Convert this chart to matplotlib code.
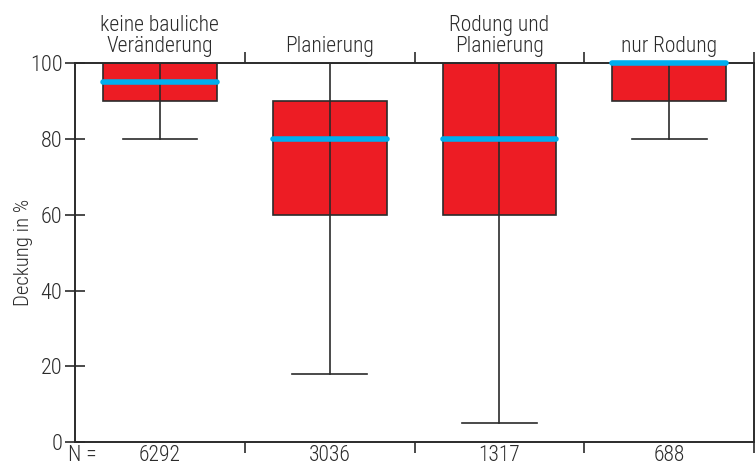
import matplotlib.pyplot as plt
from matplotlib.transforms import blended_transform_factory

plt.rcParams['font.family'] = ['Roboto Condensed', 'DejaVu Sans']
plt.rcParams['font.weight'] = 'light'
plt.rcParams['axes.labelweight'] = 'light'

# Daten
categories = ["keine bauliche\nVeränderung", "Planierung", "Rodung und\nPlanierung", "nur Rodung"]
n_values = ["6292", "3036", "1317", "688"]
whisker_low = [80, 18, 5, 80]
q1 = [90, 60, 60, 90]
median = [95, 80, 80, 100]
q3 = [100, 90, 100, 100]
whisker_high = [100, 100, 100, 100]
y_ticks = [0, 20, 40, 60, 80, 100]

ink = "#2b2b2b"
red = "#ed1c24"
blue = "#00aeef"

fig = plt.figure(figsize=(7.56, 4.72), dpi=100)
ax = fig.add_axes([0.0992, 0.0636, 0.8982, 0.8019])

stats = []
for i in range(len(categories)):
    stats.append({"whislo": whisker_low[i], "q1": q1[i], "med": median[i],
                  "q3": q3[i], "whishi": whisker_high[i], "fliers": []})

pos = list(range(1, len(categories) + 1))
ax.bxp(stats, positions=pos, widths=0.67, capwidths=0.44, patch_artist=True,
       showfliers=False,
       boxprops=dict(facecolor=red, edgecolor=ink, linewidth=1.2),
       whiskerprops=dict(color=ink, linewidth=1.2),
       capprops=dict(color=ink, linewidth=1.2),
       medianprops=dict(color=blue, linewidth=4, solid_capstyle="round",
                        zorder=5, clip_on=False))
# Linie durch die Box
ax.vlines(pos, q1, q3, color=ink, linewidth=1.2, zorder=4)

ax.set_xlim(0.5, len(categories) + 0.5)
ax.set_ylim(0, 100)
ax.set_yticks(y_ticks)
ax.tick_params(axis="y", direction="inout", length=14, width=1.2, color=ink,
               labelsize=16, labelcolor=ink, pad=2)

# Kategoriengrenzen als Ticks oben und unten
bounds = [p + 0.5 for p in pos]
ax.set_xticks(bounds)
ax.set_xticklabels([])
ax.tick_params(axis="x", direction="out", length=8, width=1.2, color=ink,
               top=True, bottom=True)

for s in ax.spines.values():
    s.set_color(ink)
    s.set_linewidth(1.4)

ax.set_ylabel("Deckung in %", fontsize=15, color=ink, fontweight="light")
ax.yaxis.set_label_coords(-0.062, 0.5)

trans = blended_transform_factory(ax.transData, ax.transAxes)
for p, lab, n in zip(pos, categories, n_values):
    ax.annotate(lab, (p, 1), xycoords=trans, xytext=(0, 5), textcoords="offset points",
                ha="center", va="bottom", fontsize=15.5, color=ink, linespacing=0.95)
    ax.annotate(n, (p, 0), xycoords=trans, xytext=(0, -2), textcoords="offset points",
                ha="center", va="top", fontsize=15.5, color=ink)
ax.annotate("N =", (0, 0), xycoords="axes fraction", xytext=(-5, -2),
            textcoords="offset points", ha="left", va="top", fontsize=15.5, color=ink)

fig.savefig("out.png", dpi=100)
